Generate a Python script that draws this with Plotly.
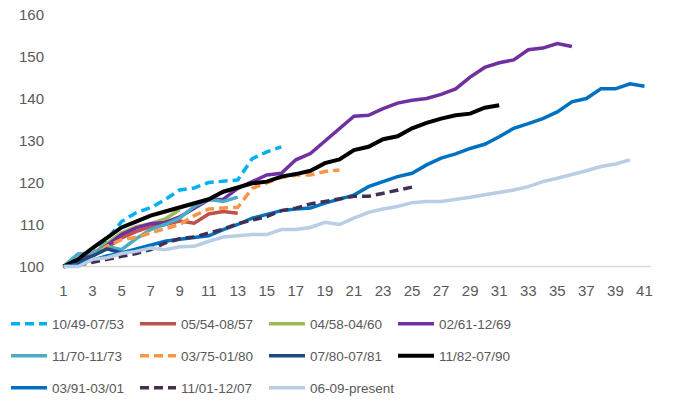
import plotly.graph_objects as go

# Cumulative index (start of cycle = 100), by period number
labels = ["10/49-07/53", "05/54-08/57", "04/58-04/60", "02/61-12/69",
          "11/70-11/73", "03/75-01/80", "07/80-07/81", "11/82-07/90",
          "03/91-03/01", "11/01-12/07", "06-09-present"]

cycle_1949 = [100, 101, 103, 106.4, 110.7, 112.8, 114, 115.9, 118.2, 118.7,
              120, 120.2, 120.6, 125.7, 127.3, 128.5]
cycle_1954 = [100, 101, 102.5, 104.5, 106.8, 108.3, 109.5, 110, 110.8, 110.3,
              112.5, 113.1, 112.7]
cycle_1958 = [100, 101.2, 103, 105.5, 108, 109.5, 110.2, 111.3, 113.5]
cycle_1961 = [100, 101, 103, 105, 107.6, 109.2, 110.2, 110.5, 111.8, 113.9,
              115.9, 116, 118.6, 120.2, 121.8, 122.2, 125.4, 126.9, 129.8, 132.9,
              135.8, 136, 137.6, 138.9, 139.6, 140, 141, 142.3, 145.1, 147.4,
              148.5, 149.2, 151.6, 152, 153.1, 152.4]
cycle_1970 = [100, 103, 103.2, 104.8, 104, 106.6, 108.8, 110, 111.5, 114.3,
              116, 115.5, 116.5]
cycle_1975 = [100, 101, 102.5, 104.8, 106.4, 106.9, 108, 108.9, 110, 112.1,
              113.7, 113.9, 114.1, 118.6, 119.8, 121.2, 121.8, 121.8, 122.6, 123]
cycle_1980 = [100, 101, 102.5, 104.2, 103.2]
cycle_1982 = [100, 101.7, 104.4, 106.8, 109.3, 110.7, 112.1, 113.1, 114.1, 115.1,
              116, 117.8, 118.9, 119.8, 120.2, 121.4, 122, 122.8, 124.6, 125.5,
              127.7, 128.5, 130.3, 131, 132.9, 134.2, 135.2, 136, 136.4, 137.8,
              138.4]
cycle_1991 = [100, 100.5, 101.5, 102.5, 103.2, 104.2, 105, 106, 106.5, 107,
              107.3, 108.8, 110, 111.5, 112.3, 113.3, 113.7, 113.9, 115.1, 116,
              117, 119, 120.2, 121.4, 122.2, 124.2, 125.8, 126.8, 128.1, 129.1,
              130.9, 132.9, 134, 135.2, 136.8, 139.2, 140, 142.3, 142.3, 143.5,
              142.9]
cycle_2001 = [100, 100.3, 101, 101.8, 102.4, 103.1, 104, 105.6, 106.6, 107,
              108, 108.9, 110.2, 111.1, 111.9, 113.3, 113.9, 114.9, 115.5, 115.9,
              116.7, 116.7, 117.5, 118.2, 118.9]
cycle_2009 = [100, 100, 101.7, 102.1, 103.1, 103.6, 104.4, 104, 104.7, 104.8,
              106, 107, 107.3, 107.6, 107.6, 108.8, 108.8, 109.3, 110.5, 110,
              111.5, 112.9, 113.7, 114.3, 115.2, 115.5, 115.5, 115.9, 116.5, 117.1,
              117.6, 118.2, 119, 120.2, 121, 121.8, 122.8, 123.8, 124.4, 125.4]

series = [cycle_1949, cycle_1954, cycle_1958, cycle_1961, cycle_1970, cycle_1975,
          cycle_1980, cycle_1982, cycle_1991, cycle_2001, cycle_2009]

x_ticks = list(range(1, 42, 2))
y_ticks = [100, 110, 120, 130, 140, 150, 160]

colors = ["#00B0F0", "#C0504D", "#9BBB59", "#7030A0", "#4BACC6", "#F79646",
          "#1F497D", "#000000", "#0070C0", "#403152", "#B9CDE5"]
dashes = ["9px,5px", "solid", "solid", "solid", "solid", "9px,5px",
          "solid", "solid", "solid", "9px,5px", "solid"]
widths = [3.5, 3.5, 3.5, 3.5, 3.5, 3.5, 3.5, 4, 3.5, 3.5, 3.5]

TEXT = "#595959"
FONT = "Liberation Sans"

fig = go.Figure()
legend_ids = ["legend", "legend2", "legend3"]
for i, (name, vals) in enumerate(zip(labels, series)):
    fig.add_trace(go.Scatter(
        x=list(range(1, len(vals) + 1)), y=vals, name=name, mode="lines",
        line=dict(color=colors[i], width=widths[i], dash=dashes[i]),
        legend=legend_ids[i // 4], legendwidth=78 if i < 10 else 110,
        hoverinfo="skip"))

# Baseline along the 100 level
fig.add_shape(type="line", xref="paper", yref="y", x0=0, x1=1, y0=100, y1=100,
              line=dict(color="#D9D9D9", width=1.3), layer="below")

W, H = 673, 402
left, right = 61.5, 651.5
top, bottom = 11.5, 269.5

legend_rows = [324, 356, 388]
legend_common = dict(orientation="h", xref="container", yref="container",
                     x=6 / W, xanchor="left", yanchor="middle",
                     entrywidth=78, entrywidthmode="pixels", itemwidth=36,
                     font=dict(family=FONT, size=13.5, color=TEXT),
                     bgcolor="rgba(0,0,0,0)", traceorder="normal")

fig.update_layout(
    width=W, height=H,
    margin=dict(l=left, r=W - right, t=top, b=H - bottom, pad=0, autoexpand=False),
    paper_bgcolor="white", plot_bgcolor="white",
    font=dict(family=FONT, size=15, color=TEXT),
    showlegend=True,
    legend=dict(y=1 - legend_rows[0] / H, **legend_common),
    legend2=dict(y=1 - legend_rows[1] / H, **legend_common),
    legend3=dict(y=1 - legend_rows[2] / H, **legend_common),
    xaxis=dict(range=[0.9, 41.45], tickvals=x_ticks, ticktext=[str(v) for v in x_ticks],
               showgrid=False, zeroline=False, showline=False,
               ticks="outside", ticklen=8, tickcolor="rgba(0,0,0,0)",
               tickfont=dict(family=FONT, size=15, color=TEXT)),
    yaxis=dict(range=[99.4, 160.6], tickvals=y_ticks, ticktext=[str(v) for v in y_ticks],
               showgrid=False, zeroline=False, showline=False,
               ticks="outside", ticklen=14, tickcolor="rgba(0,0,0,0)",
               tickfont=dict(family=FONT, size=15, color=TEXT)),
)

fig.write_html("out.html")
